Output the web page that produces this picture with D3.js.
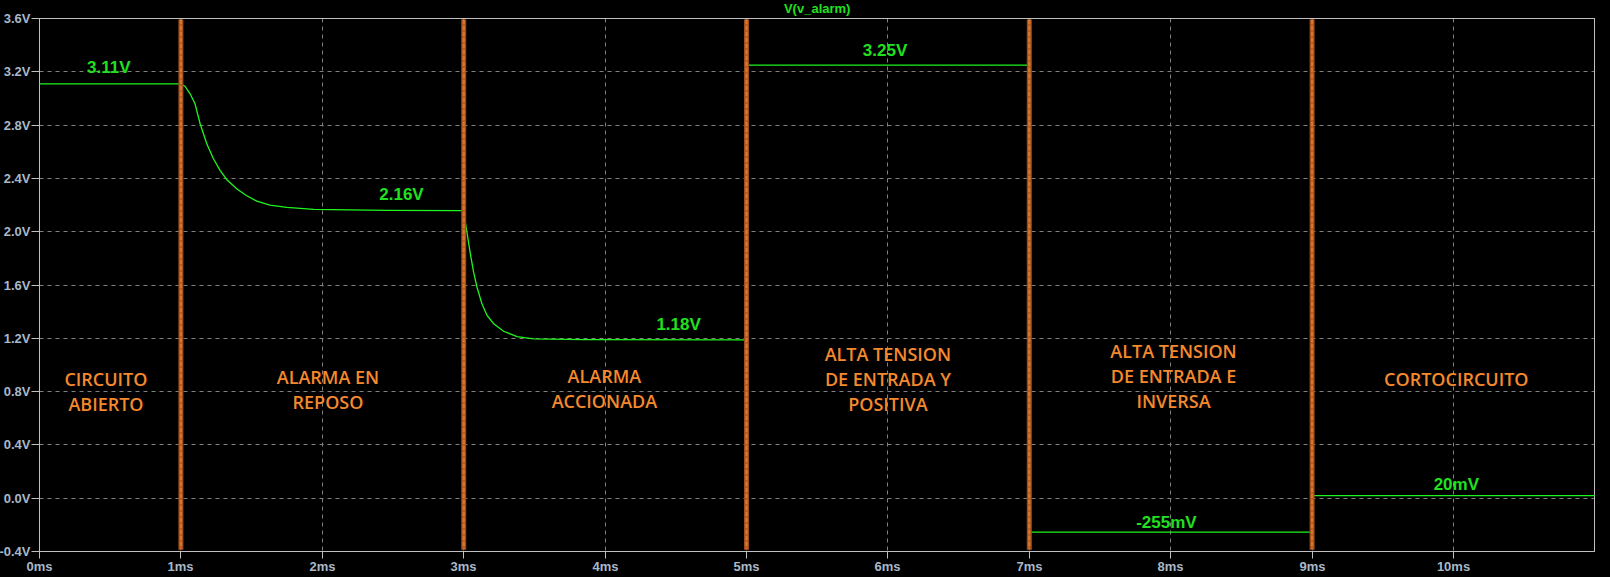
<!doctype html>
<html lang=en>

<head>
  <meta charset=utf-8>
  <title>V(v_alarm)</title>
  <style>
    body { margin: 0; background: #000; }
    svg { display: block; }
  </style>
</head>

<body>
  <svg></svg>
  <script src="https://cdn.jsdelivr.net/npm/d3@7"></script>
  <script>
    var width = 1610;
    var height = 577;

    // waveform (ms, V)
    var timeMs = [0, 1.0, 1.03, 1.065, 1.10, 1.136, 1.183, 1.23, 1.277, 1.325, 1.396, 1.466, 1.537, 1.63, 1.75, 1.94, 2.457, 2.995,
      3.004, 3.023, 3.047, 3.07, 3.094, 3.129, 3.165, 3.212, 3.282, 3.377, 3.495, 3.85, 5.0,
      5.0, 7.0, 7.0, 9.0, 9.0, 11.0];
    var voltage = [3.11, 3.11, 3.09, 3.035, 2.96, 2.81, 2.66, 2.547, 2.46, 2.39, 2.32, 2.27, 2.229, 2.199, 2.182, 2.167, 2.16, 2.158,
      2.12, 1.996, 1.834, 1.696, 1.583, 1.459, 1.371, 1.309, 1.253, 1.213, 1.196, 1.19, 1.188,
      3.25, 3.25, -0.255, -0.255, 0.02, 0.02];

    var xTicks = [0, 1, 2, 3, 4, 5, 6, 7, 8, 9, 10];
    var yTicks = [-0.4, 0, 0.4, 0.8, 1.2, 1.6, 2.0, 2.4, 2.8, 3.2, 3.6];

    // cursors between the test cases
    var markerTimes = [1, 3, 5, 7, 9];

    // green value notes
    var valueLabels = ["3.11V", "2.16V", "1.18V", "3.25V", "-255mV", "20mV"];
    var valueLabelT = [0.49, 2.56, 4.52, 5.98, 7.97, 10.02];
    var valueLabelV = [3.193, 2.238, 1.262, 3.318, -0.222, 0.062];

    // orange region notes
    var regionLabels = [
      ["CIRCUITO", "ABIERTO"],
      ["ALARMA EN", "REPOSO"],
      ["ALARMA", "ACCIONADA"],
      ["ALTA TENSION", "DE ENTRADA Y", "POSITIVA"],
      ["ALTA TENSION", "DE ENTRADA E", "INVERSA"],
      ["CORTOCIRCUITO"]
    ];
    var regionT = [0.47, 2.04, 3.995, 6.0, 8.02, 10.02];
    var regionV = [0.887, 0.902, 0.912, 1.075, 1.098, 0.887];

    var svg = d3.select("svg")
      .attr("width", width)
      .attr("height", height)
      .style("background-color", "black");

    var x = d3.scaleLinear().domain([0, 11]).range([39.5, 1594.9]);
    var y = d3.scaleLinear().domain([-0.4, 3.6]).range([551.5, 18.5]);

    var px = function (v) { return Math.floor(v) + 0.5; };

    // grid
    var grid = svg.append("g")
      .attr("stroke", "#808080")
      .attr("stroke-width", 1)
      .attr("stroke-dasharray", "4,4");

    grid.selectAll(".gx").data(xTicks.filter(function (d) { return d > 0; }))
      .enter().append("line")
      .attr("x1", function (d) { return px(x(d)); })
      .attr("x2", function (d) { return px(x(d)); })
      .attr("y1", y(3.6)).attr("y2", y(-0.4));

    grid.selectAll(".gy").data(yTicks.filter(function (d) { return d > -0.4 && d < 3.6; }))
      .enter().append("line")
      .attr("y1", function (d) { return px(y(d)); })
      .attr("y2", function (d) { return px(y(d)); })
      .attr("x1", x(0)).attr("x2", x(11));

    // axes
    var yAxis = d3.axisLeft(y)
      .tickValues(yTicks)
      .tickSize(8)
      .tickPadding(1)
      .tickFormat(function (d) { return d.toFixed(1) + "V"; });

    var xAxis = d3.axisBottom(x)
      .tickValues(xTicks)
      .tickSize(7)
      .tickPadding(3)
      .tickFormat(function (d) { return d + "ms"; });

    var gy = svg.append("g").attr("transform", "translate(" + x(0) + ",0)").call(yAxis);
    var gx = svg.append("g").attr("transform", "translate(0," + y(-0.4) + ")").call(xAxis);

    [gx, gy].forEach(function (g) {
      g.select(".domain").remove();
      g.selectAll(".tick line").attr("stroke", "#c0c0c0");
      g.selectAll(".tick text")
        .attr("fill", "#a9b8c8")
        .style("font-family", "'Liberation Sans', Arial, sans-serif")
        .style("font-weight", "bold")
        .style("font-size", "13px");
    });
    gy.selectAll(".tick").attr("transform", function (d) { return "translate(0," + px(y(d)) + ")"; });
    gx.selectAll(".tick").attr("transform", function (d) { return "translate(" + px(x(d)) + ",0)"; });

    // frame
    svg.append("rect")
      .attr("x", x(0)).attr("y", y(3.6))
      .attr("width", px(x(11)) - x(0))
      .attr("height", y(-0.4) - y(3.6))
      .attr("fill", "none")
      .attr("stroke", "#c0c0c0")
      .attr("stroke-width", 1);

    // title
    svg.append("text")
      .attr("x", (x(0) + x(11)) / 2)
      .attr("y", 13)
      .attr("text-anchor", "middle")
      .attr("fill", "#1fe01f")
      .style("font-family", "'Liberation Sans', Arial, sans-serif")
      .style("font-weight", "bold")
      .style("font-size", "13px")
      .text("V(v_alarm)");

    // trace
    var trace = timeMs.map(function (t, i) { return [t, voltage[i]]; });
    var line = d3.line()
      .x(function (d) { return x(d[0]); })
      .y(function (d) { return y(d[1]); });

    svg.append("path")
      .datum(trace)
      .attr("fill", "none")
      .attr("stroke", "#1ef51e")
      .attr("stroke-width", 1.3)
      .attr("d", line);

    // cursor bars
    var bars = svg.append("g");
    bars.selectAll("rect").data(markerTimes).enter().append("rect")
      .attr("x", function (d) { return x(d) - 2.5; })
      .attr("y", y(3.6) + 1)
      .attr("width", 5)
      .attr("height", y(-0.38) - y(3.6))
      .attr("fill", "#9c4c1c");
    bars.selectAll("line").data(markerTimes).enter().append("line")
      .attr("x1", function (d) { return x(d); })
      .attr("x2", function (d) { return x(d); })
      .attr("y1", y(3.6) + 1)
      .attr("y2", y(-0.38))
      .attr("stroke", "#d8752c")
      .attr("stroke-width", 2.5)
      .attr("stroke-dasharray", "5,1");

    // value notes
    svg.append("g").selectAll("text").data(valueLabels).enter().append("text")
      .attr("x", function (d, i) { return x(valueLabelT[i]); })
      .attr("y", function (d, i) { return y(valueLabelV[i]); })
      .attr("text-anchor", "middle")
      .attr("fill", "#20e020")
      .style("font-family", "'Liberation Sans', Arial, sans-serif")
      .style("font-weight", "bold")
      .style("font-size", "17px")
      .text(function (d) { return d; });

    // region notes
    var notes = svg.append("g").selectAll("text").data(regionLabels).enter().append("text")
      .attr("x", function (d, i) { return x(regionT[i]); })
      .attr("y", function (d, i) { return y(regionV[i]); })
      .attr("text-anchor", "middle")
      .attr("fill", "#f5892d")
      .style("font-family", "'Open Sans', 'Noto Sans', sans-serif")
      .style("font-weight", "600")
      .style("font-size", "18px");

    notes.each(function (lines, i) {
      var el = d3.select(this);
      lines.forEach(function (s, k) {
        el.append("tspan")
          .attr("x", x(regionT[i]))
          .attr("dy", k === 0 ? "0.35em" : 25)
          .text(s);
      });
    });
  </script>
</body>

</html>
